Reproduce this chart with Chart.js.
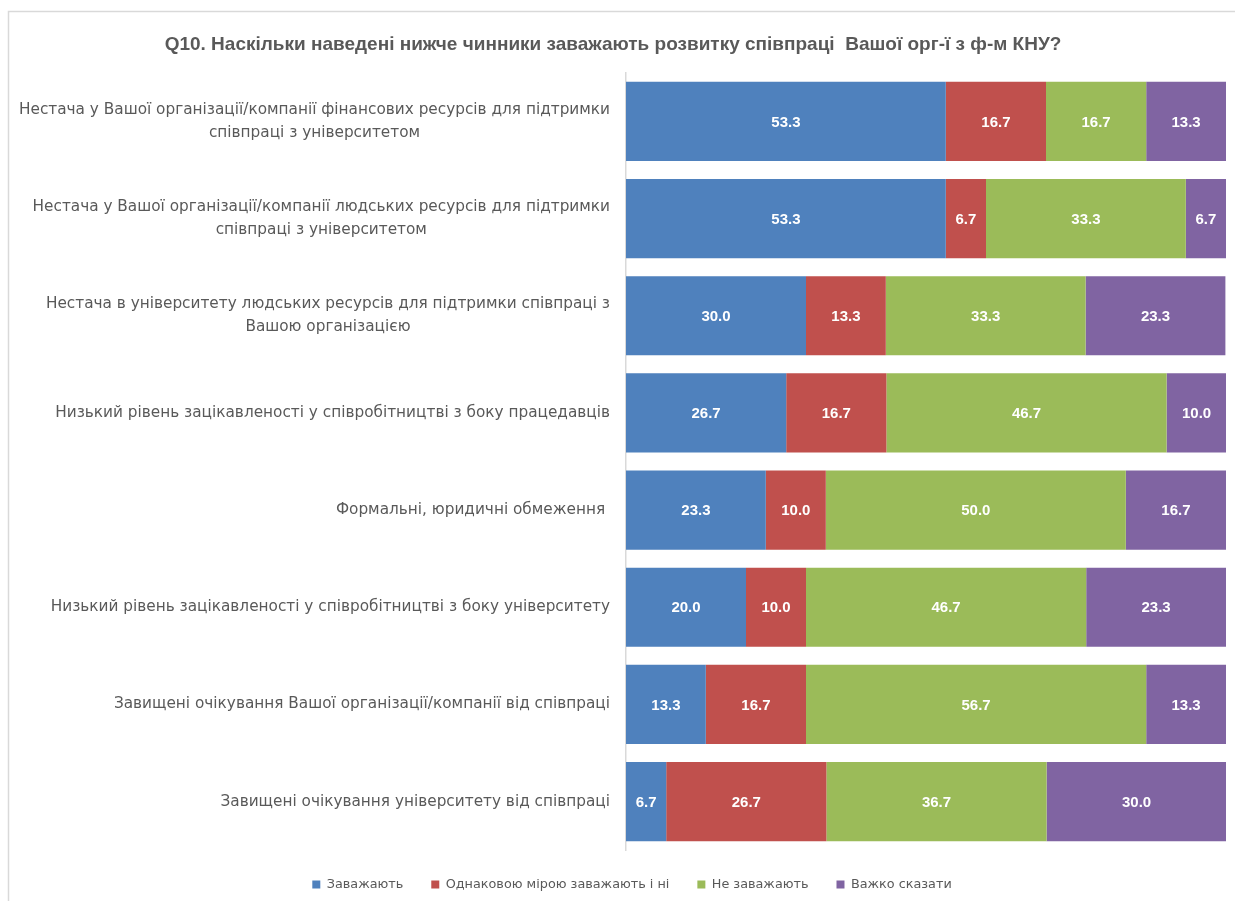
<!DOCTYPE html>
<html>
<head>
<meta charset="utf-8">
<script src="https://cdn.jsdelivr.net/npm/chart.js@4.4.0/dist/chart.umd.min.js"></script>
<style>
  html, body { margin: 0; padding: 0; background: #fff; }
  canvas { display: block; }
</style>
</head>
<body>
<canvas id="chart" width="1235" height="901"></canvas>
<script>
const categories = [
  ['Нестача у Вашої організації/компанії фінансових ресурсів для підтримки', 'співпраці з університетом'],
  ['Нестача у Вашої організації/компанії людських ресурсів для підтримки', 'співпраці з університетом'],
  ['Нестача в університету людських ресурсів для підтримки співпраці з', 'Вашою організацією'],
  'Низький рівень зацікавленості у співробітництві з боку працедавців',
  'Формальні, юридичні обмеження ',
  'Низький рівень зацікавленості у співробітництві з боку університету',
  'Завищені очікування Вашої організації/компанії від співпраці',
  'Завищені очікування університету від співпраці'
];

const seriesNames = ['Заважають', 'Однаковою мірою заважають і ні', 'Не заважають', 'Важко сказати'];
const hinder  = [53.3, 53.3, 30.0, 26.7, 23.3, 20.0, 13.3, 6.7];
const equally = [16.7, 6.7, 13.3, 16.7, 10.0, 10.0, 16.7, 26.7];
const notHinder = [16.7, 33.3, 33.3, 46.7, 50.0, 46.7, 56.7, 36.7];
const hardToSay = [13.3, 6.7, 23.3, 10.0, 16.7, 23.3, 13.3, 30.0];
const colors = ['#4F81BD', '#C0504D', '#9BBB59', '#8064A2'];

const FONT = "'Liberation Sans', Arial, sans-serif";
const WIDE = "'DejaVu Sans', sans-serif";

// light frame of the chart area (top and left edges visible)
const frame = {
  id: 'frame',
  afterLayout(chart) {
    // legend sits a bit right of the canvas centre in the original
    chart.legend.left += 19;
    chart.legend.right += 19;
  },
  beforeDraw(chart) {
    const ctx = chart.ctx;
    ctx.save();
    ctx.strokeStyle = '#D9D9D9';
    ctx.lineWidth = 1.5;
    ctx.beginPath();
    ctx.moveTo(8.5, chart.height);
    ctx.lineTo(8.5, 11.5);
    ctx.lineTo(chart.width, 11.5);
    ctx.stroke();
    ctx.restore();
  }
};

// value labels inside the bars (no datalabels plugin available offline)
const barLabels = {
  id: 'barLabels',
  afterDatasetsDraw(chart) {
    const ctx = chart.ctx;
    ctx.save();
    ctx.fillStyle = '#fff';
    ctx.font = 'bold 15px ' + FONT;
    ctx.textAlign = 'center';
    ctx.textBaseline = 'middle';
    chart.data.datasets.forEach((ds, i) => {
      chart.getDatasetMeta(i).data.forEach((el, j) => {
        const p = el.getCenterPoint();
        ctx.fillText(ds.data[j].toFixed(1), p.x, p.y + 1);
      });
    });
    ctx.restore();
  }
};

// category labels: block right aligned, lines centred inside the block
const catLabels = {
  id: 'catLabels',
  afterDraw(chart) {
    const ctx = chart.ctx, scale = chart.scales.y;
    ctx.save();
    ctx.fillStyle = '#595959';
    ctx.font = '15.3px ' + WIDE;
    ctx.textAlign = 'center';
    ctx.textBaseline = 'middle';
    chart.data.labels.forEach((lab, i) => {
      const lines = Array.isArray(lab) ? lab : [lab];
      const w = Math.max(...lines.map(l => ctx.measureText(l).width));
      const cx = scale.right - 16 - w / 2;
      const yc = scale.getPixelForValue(i);
      lines.forEach((l, k) => {
        ctx.fillText(l, cx, yc + (k - (lines.length - 1) / 2) * 23);
      });
    });
    ctx.restore();
  }
};

new Chart(document.getElementById('chart'), {
  type: 'bar',
  data: {
    labels: categories,
    datasets: [hinder, equally, notHinder, hardToSay].map((d, i) => ({
      label: seriesNames[i],
      data: d,
      backgroundColor: colors[i],
      borderWidth: 0,
      categoryPercentage: 1,
      barPercentage: 0.815
    }))
  },
  options: {
    indexAxis: 'y',
    responsive: false,
    animation: false,
    devicePixelRatio: 1,
    layout: { padding: { left: 0, right: 9, top: 0, bottom: 0 } },
    scales: {
      x: {
        stacked: true,
        min: 0,
        max: 100,
        display: false
      },
      y: {
        stacked: true,
        grid: { display: false },
        border: { color: '#D9D9D9', width: 1.5 },
        ticks: { display: false },
        afterFit(scale) { scale.width = 626; }
      }
    },
    plugins: {
      title: {
        display: true,
        text: 'Q10. Наскільки наведені нижче чинники заважають розвитку співпраці  Вашої орг-ї з ф-м КНУ?',
        color: '#595959',
        font: { family: FONT, size: 19, weight: 'bold' },
        padding: { top: 33, bottom: 17 }
      },
      legend: {
        position: 'bottom',
        maxHeight: 53,
        labels: {
          color: '#595959',
          font: { family: WIDE, size: 12.8 },
          boxWidth: 8,
          boxHeight: 8,
          padding: 28
        }
      },
      tooltip: { enabled: false }
    }
  },
  plugins: [frame, barLabels, catLabels]
});
</script>
</body>
</html>
